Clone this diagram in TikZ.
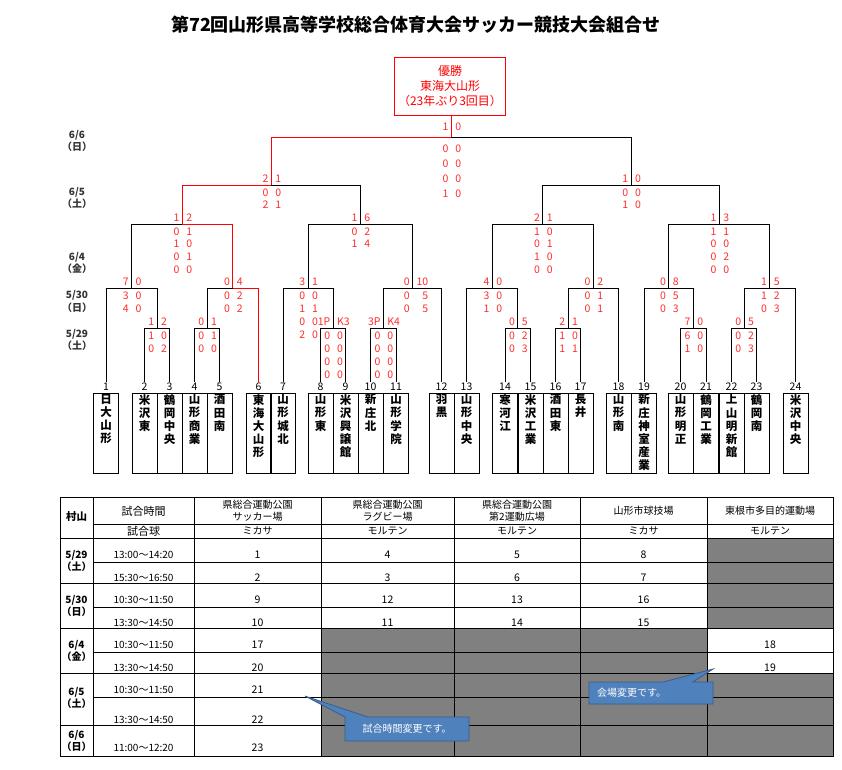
\documentclass[tikz,border=0pt]{standalone}
\usepackage{fontspec}
\setmainfont{Noto Sans CJK JP}
\usetikzlibrary{positioning,calc}
\definecolor{wred}{RGB}{255,0,0}
\definecolor{sred}{RGB}{255,45,45}
\definecolor{tgray}{RGB}{128,128,128}
\definecolor{cblue}{RGB}{79,129,189}
\definecolor{cedge}{RGB}{56,93,138}
\newcommand{\fs}[2]{\fontsize{#1}{#2}\selectfont}
\tikzset{
  ln/.style={line width=0.8pt, black},
  redln/.style={line width=0.9pt, wred},
  ttl/.style={font=\fs{18}{18}\bfseries, inner sep=0pt},
  champ/.style={draw=wred, line width=0.9pt, text=wred, minimum width=108pt,
                minimum height=58pt, align=center, font=\fs{12}{15}},
  sc/.style={font=\fs{10.5}{10.5}, text=sred, inner sep=0pt},
  tnum/.style={font=\fs{10.5}{10.5}, inner sep=0pt},
  cell/.style={draw, line width=0.8pt, minimum width=25pt, minimum height=80pt,
               inner sep=0pt, anchor=north},
  tname/.style={font=\fs{11.5}{13.2}\bfseries, align=center, inner sep=0pt},
  day/.style={font=\fs{10}{12.5}\bfseries, text=black!80, align=center, inner sep=0pt},
  tbl/.style={line width=0.7pt},
  tx/.style={font=\fs{10}{11.5}, align=center, inner sep=0pt},
  txb/.style={font=\fs{10.5}{11}, inner sep=0pt},
  callout/.style={fill=cblue, draw=cedge, line width=0.8pt},
  ctext/.style={font=\fs{10}{10}, text=white, inner sep=0pt},
}
\newcommand{\match}[6]{%
  \coordinate (#1-c) at ($(#2)!.5!(#3)$);
  \coordinate (#1) at (#1-c |- 0,#4);
  \draw[#5] (#2) |- (#1);
  \draw[#6] (#1) -| (#3);}
\newcommand{\score}[4]{%
  \foreach \sa/\sb [count=\i] in {#4} {
    \pgfmathsetmacro{\dy}{\i==1 ? -#3 : #3+1.5+(\i-2)*#2}
    \node[sc, anchor=east] (#1a\i) at ($(#1)+(-2.5,\dy)$) {\sa};
    \node[sc, anchor=west] (#1b\i) at ($(#1)+(4,\dy)$) {\sb};
  }}

\begin{document}
\begin{tikzpicture}[x=1pt, y=-1pt]
  \useasboundingbox[fill=white] (0,0) rectangle (842,769);
  \node[ttl] (title) at (416,25) {第72回山形県高等学校総合体育大会サッカー競技大会組合せ};
  \node[champ] (champ) at (450,86) {優勝\\東海大山形\\（23年ぶり3回目）};

  \node[day] (d66) at (77,141) {6/6\\（日）};
  \node[day] (d65) at (77,198) {6/5\\（土）};
  \node[day] (d64) at (77,263) {6/4\\（金）};
  \node[day] (d530) at (77,301.5) {5/30\\（日）};
  \node[day] (d529) at (77,340) {5/29\\（土）};

  \foreach \i/\x/\nm in {
      1/106/{日\\大\\山\\形}, 2/144.5/{米\\沢\\東}, 3/169.5/{鶴\\岡\\中\\央},
      4/194.5/{山\\形\\商\\業}, 5/219.5/{酒\\田\\南}, 6/258.5/{東\\海\\大\\山\\形},
      7/283/{山\\形\\城\\北}, 8/320.5/{山\\形\\東}, 9/345.5/{米\\沢\\興\\譲\\館},
      10/370.5/{新\\庄\\北}, 11/396/{山\\形\\学\\院}, 12/441.5/{羽\\黒},
      13/466.5/{山\\形\\中\\央}, 14/505/{寒\\河\\江}, 15/530.5/{米\\沢\\工\\業},
      16/555.5/{酒\\田\\東}, 17/580.5/{長\\井}, 18/618.5/{山\\形\\南},
      19/644/{新\\庄\\神\\室\\産\\業}, 20/680.5/{山\\形\\明\\正},
      21/706/{鶴\\岡\\工\\業}, 22/731.5/{上\\山\\明\\新\\館},
      23/756.5/{鶴\\岡\\南}, 24/795.5/{米\\沢\\中\\央}} {
    \node[tnum] (n\i) at (\x,387) {\i};
    \coordinate (e\i) at (\x,381.5);
    \node[cell] (b\i) at (\x,393) {};
    \node[tname, below=1pt of b\i.north] (w\i) {\nm};
  }

  \match{m23}{e2}{e3}{328}{ln}{ln}
  \match{m45}{e4}{e5}{328}{ln}{ln}
  \match{m89}{e8}{e9}{328}{ln}{ln}
  \match{m1011}{e10}{e11}{328}{ln}{ln}
  \match{m1415}{e14}{e15}{328}{ln}{ln}
  \match{m1617}{e16}{e17}{328}{ln}{ln}
  \match{m2021}{e20}{e21}{328}{ln}{ln}
  \match{m2223}{e22}{e23}{328}{ln}{ln}
  \match{r1}{e1}{m23}{288}{ln}{ln}
  \match{r2}{m45}{e6}{288}{ln}{redln}
  \match{r3}{e7}{m89}{288}{ln}{ln}
  \match{r4}{m1011}{e12}{288}{ln}{ln}
  \match{r5}{e13}{m1415}{288}{ln}{ln}
  \match{r6}{m1617}{e18}{288}{ln}{ln}
  \match{r7}{e19}{m2021}{288}{ln}{ln}
  \match{r8}{m2223}{e24}{288}{ln}{ln}
  \match{q1}{r1}{r2}{224}{ln}{redln}
  \match{q2}{r3}{r4}{224}{ln}{ln}
  \match{q3}{r5}{r6}{224}{ln}{ln}
  \match{q4}{r7}{r8}{224}{ln}{ln}
  \match{s1}{q1}{q2}{185}{redln}{ln}
  \match{s2}{q3}{q4}{185}{ln}{ln}
  \match{f}{s1}{s2}{137}{redln}{ln}
  \draw[redln] (f) -- (f |- champ.south);

  \score{f}{15}{10}{1/0,0/0,0/0,0/0,1/0}
  \score{s1}{12.5}{6}{2/1,0/0,2/1}
  \score{s2}{12.5}{6}{1/0,0/0,1/0}
  \score{q1}{12.7}{6}{1/2,0/1,1/0,0/1,0/0}
  \score{q2}{12.7}{6}{1/6,0/2,1/4}
  \score{q3}{12.7}{6}{2/1,1/0,0/1,1/0,0/0}
  \score{q4}{12.7}{6}{1/3,1/1,0/0,0/2,0/0}
  \score{r1}{13}{6}{7/0,3/0,4/0}
  \score{r2}{13}{6}{0/4,0/2,0/2}
  \score{r3}{13}{6}{3/1,0/0,1/1,0/0,2/0}
  \score{r4}{13}{6}{0/10,0/\phantom{1}5,0/\phantom{1}5}
  \score{r5}{13}{6}{4/0,3/0,1/0}
  \score{r6}{13}{6}{0/2,0/1,0/1}
  \score{r7}{13}{6}{0/8,0/5,0/3}
  \score{r8}{13}{6}{1/5,1/2,0/3}
  \score{m23}{13}{6}{1/2,1/0,0/2}
  \score{m45}{13}{6}{0/1,0/1,0/0}
  \score{m89}{13}{6}{1P/K3,0/0,0/0,0/0,0/0}
  \score{m1011}{13}{6}{3P/K4,0/0,0/0,0/0,0/0}
  \score{m1415}{13}{6}{0/5,0/2,0/3}
  \score{m1617}{13}{6}{2/1,1/0,1/1}
  \score{m2021}{13}{6}{7/0,6/0,1/0}
  \score{m2223}{13}{6}{0/5,0/2,0/3}

  \fill[tgray] (707,538) rectangle (833,628) (321,628) rectangle (707,756)
               (707,673) rectangle (833,756);
  \draw[tbl] (60,497) rectangle (833,756);
  \foreach \x in {93,194,321,454,580,707} \draw[tbl] (\x,497) -- (\x,756);
  \foreach \y in {538,583,628,673,725} \draw[tbl] (60,\y) -- (833,\y);
  \foreach \y in {524,562,607,652,697} \draw[tbl] (93,\y) -- (833,\y);

  \node[tx, font=\fs{10.5}{11}\bfseries] (h0) at (76.5,517) {村山};
  \node[tx, font=\fs{11}{11}] (h1) at (143.5,511) {試合時間};
  \node[tx, font=\fs{11}{11}] (h1b) at (143.5,531) {試合球};
  \node[tx] (h2) at (257.5,510.5) {県総合運動公園\\サッカー場};
  \node[tx] (h3) at (387.5,510.5) {県総合運動公園\\ラグビー場};
  \node[tx] (h4) at (517,510.5) {県総合運動公園\\第2運動広場};
  \node[tx] (h5) at (643.5,511) {山形市球技場};
  \node[tx] (h6) at (770,511) {東根市多目的運動場};
  \foreach \x/\ball [count=\i] in {257.5/ミカサ, 387.5/モルテン, 517/モルテン,
      643.5/ミカサ, 770/モルテン}
    \node[tx] (ball\i) at (\x,531) {\ball};

  \node[day, text=black] (t529) at (76.5,561) {5/29\\（土）};
  \node[day, text=black] (t530) at (76.5,606) {5/30\\（日）};
  \node[day, text=black] (t64) at (76.5,651) {6/4\\（金）};
  \node[day, text=black] (t65) at (76.5,698) {6/5\\（土）};
  \node[day, text=black] (t66) at (76.5,741) {6/6\\（日）};

  \foreach \y/\tm/\p/\q/\r/\s [count=\i] in {555/13:00～14:20/1/4/5/8,
      578/15:30～16:50/2/3/6/7, 600/10:30～11:50/9/12/13/16,
      623/13:30～14:50/10/11/14/15} {
    \node[tx] (tm\i) at (143.5,\y) {\tm};
    \node[txb] (g\i a) at (257.5,\y) {\p};
    \node[txb] (g\i b) at (387.5,\y) {\q};
    \node[txb] (g\i c) at (517,\y) {\r};
    \node[txb] (g\i d) at (643.5,\y) {\s};
  }
  \foreach \y/\tm/\p/\s [count=\i from 5] in {645/10:30～11:50/17/18,
      668/13:30～14:50/20/19} {
    \node[tx] (tm\i) at (143.5,\y) {\tm};
    \node[txb] (g\i a) at (257.5,\y) {\p};
    \node[txb] (g\i e) at (770,\y) {\s};
  }
  \foreach \y/\tm/\p [count=\i from 7] in {690/10:30～11:50/21,
      720/13:30～14:50/22, 748/11:00～12:20/23} {
    \node[tx] (tm\i) at (143.5,\y) {\tm};
    \node[txb] (g\i a) at (257.5,\y) {\p};
  }

  \draw[callout] (345,717) -- (305,696) -- (368,717) -- (469,717) -- (469,741)
                 -- (345,741) -- cycle;
  \node[ctext] (note1) at (407,729) {試合時間変更です。};
  \draw[callout] (589,682) -- (663,682) -- (713,669) -- (693,682) -- (713,682)
                 -- (713,704) -- (589,704) -- cycle;
  \node[ctext, anchor=west] (note2) at (597,693) {会場変更です。};
\end{tikzpicture}
\end{document}
